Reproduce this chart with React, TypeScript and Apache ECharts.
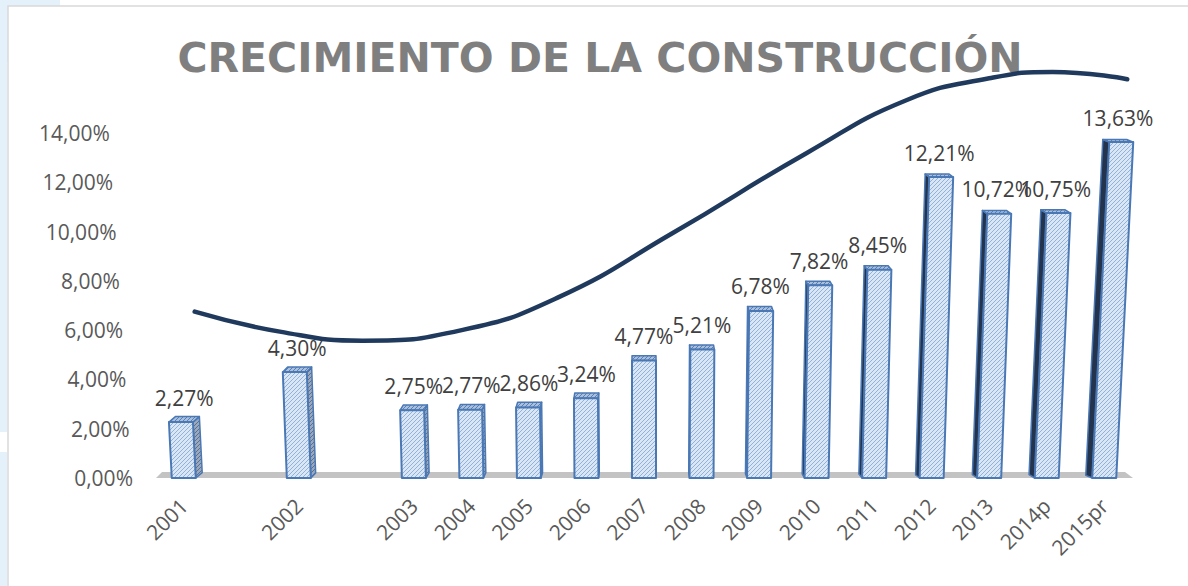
import React, { useEffect, useRef } from 'react';
import * as echarts from 'echarts';

// ---- data ----
const categories = ['2001', '', '2002', '', '2003', '2004', '2005', '2006', '2007', '2008', '2009', '2010', '2011', '2012', '2013', '2014p', '2015pr'];
const barYears = ['2001', '2002', '2003', '2004', '2005', '2006', '2007', '2008', '2009', '2010', '2011', '2012', '2013', '2014p', '2015pr'];
const barValues = [2.27, 4.30, 2.75, 2.77, 2.86, 3.24, 4.77, 5.21, 6.78, 7.82, 8.45, 12.21, 10.72, 10.75, 13.63];
const yTicks = [0, 2, 4, 6, 8, 10, 12, 14];
// trend curve (x in category slots, y in %)
const trendX = [0.19, 1.67, 3.11, 4.85, 6.49, 8.50, 10.83, 12.57, 14.0, 15.1, 16.40];
const trendY = [6.75, 5.94, 5.57, 6.01, 7.31, 9.94, 13.19, 15.34, 16.22, 16.48, 16.18];
const chartTitle = 'CRECIMIENTO DE LA CONSTRUCCIÓN';

const FONT = "'Open Sans', 'Noto Sans', sans-serif";
const fmtPct = (v: number) => v.toFixed(2).replace('.', ',') + '%';

function hatch(bg: string, line: string, size = 4, lw = 1) {
  const c = document.createElement('canvas');
  c.width = size;
  c.height = size;
  const ctx = c.getContext('2d')!;
  ctx.fillStyle = bg;
  ctx.fillRect(0, 0, size, size);
  ctx.strokeStyle = line;
  ctx.lineWidth = lw;
  ctx.beginPath();
  ctx.moveTo(0, size);
  ctx.lineTo(size, 0);
  ctx.moveTo(-1, 1);
  ctx.lineTo(1, -1);
  ctx.moveTo(size - 1, size + 1);
  ctx.lineTo(size + 1, size - 1);
  ctx.stroke();
  return { image: c, repeat: 'repeat' } as any;
}

export default function App() {
  const ref = useRef<HTMLDivElement>(null);

  useEffect(() => {
    if (!ref.current) return;
    const chart = echarts.init(ref.current, undefined, { renderer: 'svg' });

    const frontFill = hatch('#dbe6f3', '#8fb1de', 4, 1);
    const sideLightFill = hatch('#9aa9be', '#5c6f8c', 4, 1);
    const sideDarkFill = '#24344c';
    const topFill = hatch('#a9bfdc', '#5a7fb3', 4, 1);

    const barData = barYears.map((y, i) => [categories.indexOf(y), barValues[i]]);

    const rich: Record<string, any> = {};
    yTicks.forEach((t) => {
      rich['l' + t] = {
        fontSize: 21,
        fontFamily: FONT,
        color: '#595959',
        padding: [0, t * 1.65, 0, 0],
      };
    });

    const option: any = {
      animation: false,
      backgroundColor: '#ffffff',
      grid: { left: 155, right: 55, top: 133, bottom: 108, containLabel: false },
      graphic: [
        { type: 'rect', shape: { x: 0, y: 0, width: 60, height: 62 }, style: { fill: '#e4f1fa' }, z: -10 },
        { type: 'rect', shape: { x: 0, y: 0, width: 7, height: 432 }, style: { fill: '#e4f1fa' }, z: -10 },
        { type: 'rect', shape: { x: 0, y: 452, width: 7, height: 134 }, style: { fill: '#e4f1fa' }, z: -10 },
        { type: 'rect', shape: { x: 8, y: 6, width: 1200, height: 600 }, style: { fill: '#ffffff', stroke: '#d9d9d9', lineWidth: 1.5 }, z: -9 },
        {
          type: 'text',
          x: 600,
          y: 58,
          style: {
            text: chartTitle,
            textAlign: 'center',
            textVerticalAlign: 'middle',
            fontSize: 41,
            fontWeight: 'bold',
            fontFamily: "'DejaVu Sans', sans-serif",
            fill: '#7f7f7f',
          },
          z: 5,
        },
      ],
      xAxis: [
        {
          type: 'category',
          data: categories,
          boundaryGap: true,
          axisLine: { show: false },
          axisTick: { show: false },
          splitLine: { show: false },
          axisLabel: {
            interval: 0,
            rotate: 45,
            margin: 24,
            fontSize: 21,
            fontFamily: FONT,
            color: '#595959',
          },
        },
        { type: 'value', min: -0.5, max: 16.5, show: false },
      ],
      yAxis: {
        type: 'value',
        min: 0,
        max: 14,
        interval: 2,
        axisLine: { show: false },
        axisTick: { show: false },
        splitLine: { show: false },
        axisLabel: {
          margin: 22,
          formatter: (v: number) => `{l${v}|${fmtPct(v)}}`,
          rich,
        },
      },
      series: [
        {
          type: 'custom',
          name: 'floor',
          data: [[0, 0]],
          silent: true,
          z: 1,
          renderItem: (params: any) => {
            const cs = params.coordSys;
            const yb = cs.y + cs.height;
            const xl = cs.x;
            const xr = cs.x + cs.width;
            return {
              type: 'polygon',
              shape: {
                points: [
                  [xl + 1, yb],
                  [xr, yb],
                  [xr - 8, yb - 6],
                  [xl + 7, yb - 6],
                ],
              },
              style: { fill: '#c3c3c3' },
            };
          },
        },
        {
          type: 'custom',
          name: 'Crecimiento',
          data: barData,
          z: 2,
          encode: { x: 0, y: 1 },
          renderItem: (params: any, api: any) => {
            const slot = api.value(0);
            const v = api.value(1);
            const cs = params.coordSys;
            const vx = cs.x + cs.width * 0.5;
            const base = api.coord([slot, 0]);
            const top = api.coord([slot, v]);
            const xc = base[0];
            const y0 = base[1];
            const y1 = top[1];
            const h = y0 - y1;
            const w = 24;
            const dxTop = (xc - vx) * 1.1e-4 * h;
            const d = (vx - xc) * 0.014;
            const dy = -Math.max(2.5, 6 - h * 0.01);
            const bl = [xc - w / 2, y0];
            const br = [xc + w / 2, y0];
            const tl = [xc - w / 2 + dxTop, y1];
            const tr = [xc + w / 2 + dxTop, y1];
            const children: any[] = [];
            const edge = '#4a78b5';
            if (Math.abs(d) > 0.8) {
              const side =
                d > 0
                  ? [br, [br[0] + d, br[1] + dy], [tr[0] + d, tr[1] + dy], tr]
                  : [bl, [bl[0] + d, bl[1] + dy], [tl[0] + d, tl[1] + dy], tl];
              children.push({
                type: 'polygon',
                shape: { points: side },
                style: { fill: d > 0 ? sideLightFill : sideDarkFill, stroke: edge, lineWidth: 1.5, lineJoin: 'round' },
              });
            }
            children.push({
              type: 'polygon',
              shape: { points: [tl, tr, [tr[0] + d, tr[1] + dy], [tl[0] + d, tl[1] + dy]] },
              style: { fill: topFill, stroke: edge, lineWidth: 1.5, lineJoin: 'round' },
            });
            children.push({
              type: 'polygon',
              shape: { points: [bl, br, tr, tl] },
              style: { fill: frontFill, stroke: edge, lineWidth: 2, lineJoin: 'round' },
            });
            children.push({
              type: 'text',
              x: xc + dxTop + d / 2,
              y: y1 - 14,
              style: {
                text: fmtPct(v),
                textAlign: 'center',
                textVerticalAlign: 'bottom',
                fontSize: 21,
                fontFamily: FONT,
                fill: '#404040',
              },
            });
            return { type: 'group', children };
          },
        },
        {
          type: 'line',
          name: 'Tendencia',
          xAxisIndex: 1,
          data: trendX.map((x, i) => [x, trendY[i]]),
          smooth: 0.5,
          symbol: 'none',
          showSymbol: false,
          clip: false,
          z: 10,
          lineStyle: { color: '#203a5e', width: 4.5, cap: 'round' },
        },
      ],
    };

    chart.setOption(option);
    return () => chart.dispose();
  }, []);

  return (
    <div
      ref={ref}
      style={{ position: 'fixed', left: 0, top: 0, width: 1188, height: 586 }}
    />
  );
}
